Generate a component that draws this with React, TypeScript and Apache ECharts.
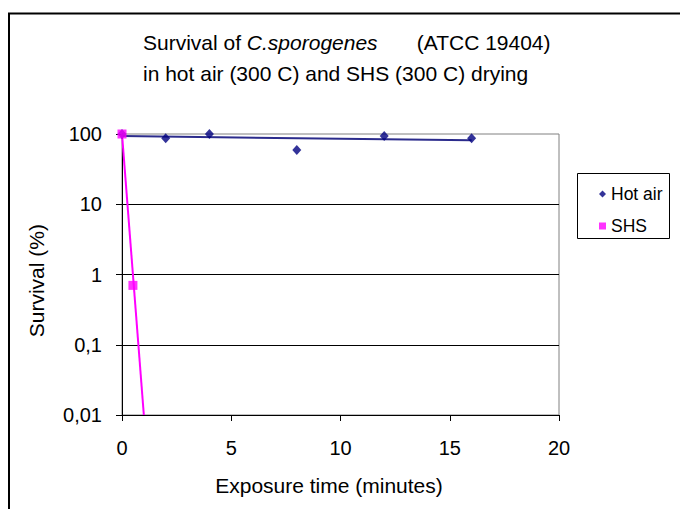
import React, { useEffect, useRef } from "react";
import * as echarts from "echarts";

const hotAirTime = [0, 2, 4, 8, 12, 16];
const hotAirSurvival = [100, 87, 100, 59, 94, 87];
const shsTime = [0, 0.5];
const shsSurvival = [100, 0.7];
const hotAirTrendTime = [0, 16];
const hotAirTrendSurvival = [93.5, 81.5];
const shsTrendTime = [0, 1.0];
const shsTrendSurvival = [100, 0.01];
const yTickLabels = ["0,01", "0,1", "1", "10", "100"];
const seriesNames = ["Hot air", "SHS"];

const FONT = "'Liberation Sans', Arial, sans-serif";

export default function App() {
  const ref = useRef<HTMLDivElement>(null);
  useEffect(() => {
    if (!ref.current) return;
    const chart = echarts.init(ref.current, null, { renderer: "svg" });
    const zip = (xs: number[], ys: number[]) => xs.map((x, i) => [x, ys[i]]);
    chart.setOption({
      animation: false,
      backgroundColor: "#fff",
      textStyle: { fontFamily: FONT },
      grid: {
        left: 114,
        top: 126,
        width: 437,
        height: 281,
        show: true,
        borderColor: "#808080",
        borderWidth: 1,
        backgroundColor: "transparent",
      },
      xAxis: {
        type: "value",
        min: 0,
        max: 20,
        interval: 5,
        axisLine: { show: true, lineStyle: { color: "#000", width: 1 } },
        axisTick: { show: true, inside: false, length: 6, lineStyle: { color: "#000" } },
        axisLabel: { fontSize: 20, color: "#000", margin: 23, fontFamily: FONT },
        splitLine: { show: false },
      },
      yAxis: {
        type: "log",
        logBase: 10,
        min: 0.01,
        max: 100,
        axisLine: { show: true, lineStyle: { color: "#000", width: 1 } },
        axisTick: { show: true, inside: false, length: 6, lineStyle: { color: "#000" } },
        axisLabel: {
          fontSize: 20,
          color: "#000",
          margin: 20,
          fontFamily: FONT,
          formatter: (v: number) => {
            const k = Math.round(Math.log10(v));
            return yTickLabels[k + 2] ?? "";
          },
        },
        splitLine: {
          show: true,
          showMaxLine: false,
          lineStyle: { color: "#000", width: 1 },
        },
      },
      legend: {
        left: 586,
        top: 172,
        orient: "vertical",
        itemGap: 14,
        itemWidth: 7,
        itemHeight: 7,
        textStyle: { fontSize: 17.5, color: "#000", lineHeight: 18, fontFamily: FONT },
        data: [
          { name: seriesNames[0], icon: "diamond" },
          { name: seriesNames[1], icon: "rect" },
        ],
      },
      series: [
        {
          name: "Hot air trend",
          type: "line",
          data: zip(hotAirTrendTime, hotAirTrendSurvival),
          showSymbol: false,
          lineStyle: { color: "#2b2b8c", width: 2 },
          itemStyle: { color: "#2b2b8c" },
          silent: true,
          z: 2,
        },
        {
          name: "SHS trend",
          type: "line",
          data: zip(shsTrendTime, shsTrendSurvival),
          showSymbol: false,
          lineStyle: { color: "#ff00ff", width: 2 },
          itemStyle: { color: "#ff00ff" },
          silent: true,
          z: 2,
        },
        {
          name: seriesNames[0],
          type: "scatter",
          data: zip(hotAirTime, hotAirSurvival),
          symbol: "diamond",
          symbolSize: [9, 10],
          itemStyle: { color: "#000080" },
          z: 3,
        },
        {
          name: seriesNames[1],
          type: "scatter",
          data: zip(shsTime, shsSurvival),
          symbol: "rect",
          symbolSize: 9,
          itemStyle: { color: "#ff00ff" },
          z: 4,
        },
      ],
      graphic: [
        {
          type: "rect",
          shape: { x: 1, y: 5.5, width: 800, height: 800 },
          style: { fill: "none", stroke: "#000", lineWidth: 2 },
          silent: true,
        },
        {
          type: "rect",
          shape: { x: 569.5, y: 165.5, width: 92, height: 65 },
          style: { fill: "none", stroke: "#000", lineWidth: 1 },
          silent: true,
        },
        {
          type: "text",
          x: 135,
          y: 34,
          style: {
            text: "Survival of {i|C.sporogenes}",
            font: `21px ${FONT}`,
            fontSize: 21,
            fontFamily: FONT,
            fill: "#000",
            align: "left",
            verticalAlign: "middle",
            rich: { i: { fontStyle: "italic", fontSize: 21, fontFamily: FONT, fill: "#000" } },
          },
        },
        {
          type: "text",
          x: 408.7,
          y: 34,
          style: {
            text: "(ATCC 19404)",
            fontSize: 21,
            fontFamily: FONT,
            fill: "#000",
            align: "left",
            verticalAlign: "middle",
          },
        },
        {
          type: "text",
          x: 135,
          y: 65,
          style: {
            text: "in hot air (300 C) and SHS (300 C) drying",
            fontSize: 21,
            fontFamily: FONT,
            fill: "#000",
            align: "left",
            verticalAlign: "middle",
          },
        },
        {
          type: "text",
          x: 321,
          y: 477,
          style: {
            text: "Exposure time (minutes)",
            fontSize: 21,
            fontFamily: FONT,
            fill: "#000",
            align: "center",
            verticalAlign: "middle",
          },
        },
        {
          type: "text",
          x: 28.7,
          y: 272.7,
          rotation: Math.PI / 2,
          style: {
            text: "Survival (%)",
            fontSize: 21,
            fontFamily: FONT,
            fill: "#000",
            align: "center",
            verticalAlign: "middle",
          },
        },
      ],
    });
    return () => chart.dispose();
  }, []);
  return <div ref={ref} style={{ width: 680, height: 501 }} />;
}
